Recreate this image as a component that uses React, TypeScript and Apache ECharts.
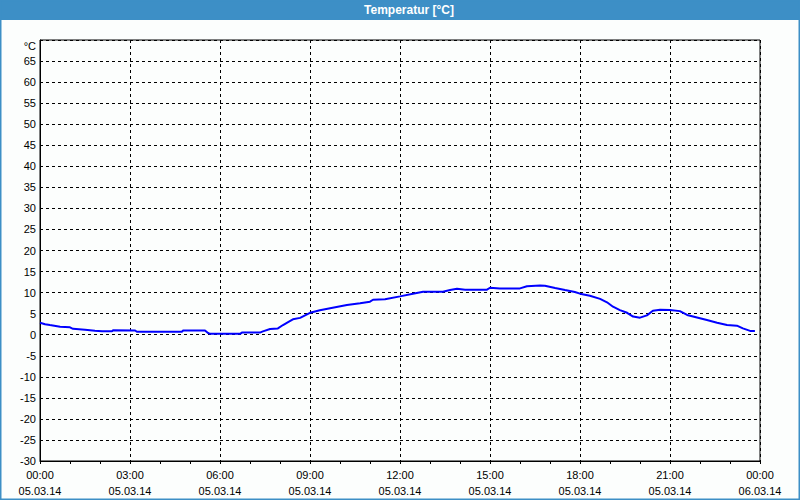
import React, { useEffect, useRef } from "react";
import * as echarts from "echarts";

const titleText = "Temperatur [°C]";
const unitLabel = "°C";
const dateStart = "05.03.14";
const dateEnd = "06.03.14";

const hours = [
  0, 0.17, 0.33, 0.67, 1.0, 1.1, 1.5, 1.83, 2.07, 2.4, 2.43, 3.17, 3.23, 4.73, 4.77, 5.5, 5.6, 5.67,
  6.67, 6.73, 7.33, 7.43, 7.67, 7.93, 8.1, 8.27, 8.43, 8.67, 9.0, 9.33, 9.67, 10.23, 10.67, 11.0,
  11.1, 11.5, 12.0, 12.43, 12.77, 13.43, 13.67, 13.9, 14.17, 14.9, 15.0, 15.33, 16.0, 16.23, 16.67,
  16.83, 17.17, 17.5, 17.83, 18.0, 18.33, 18.67, 18.9, 19.1, 19.33, 19.57, 19.77, 20.0, 20.23, 20.43,
  20.67, 21.0, 21.33, 21.57, 21.9, 22.23, 22.57, 22.9, 23.23, 23.43, 23.67, 23.83,
];
const temps = [
  2.85, 2.5, 2.3, 1.9, 1.75, 1.4, 1.2, 0.95, 0.8, 0.8, 1.05, 1.0, 0.7, 0.7, 1.0, 1.0, 0.4, 0.2,
  0.2, 0.5, 0.5, 0.8, 1.35, 1.5, 2.3, 3.0, 3.65, 4.0, 5.2, 5.8, 6.3, 7.05, 7.45, 7.85,
  8.3, 8.4, 9.1, 9.75, 10.2, 10.2, 10.6, 10.9, 10.7, 10.7, 11.15, 11.0, 11.0, 11.5, 11.7,
  11.65, 11.1, 10.6, 10.15, 9.75, 9.25, 8.5, 7.7, 6.65, 5.85, 5.2, 4.3, 4.05, 4.6, 5.7,
  5.95, 5.85, 5.6, 4.7, 4.1, 3.5, 2.85, 2.3, 2.15, 1.5, 0.9, 0.9,
];

const FONT = "Liberation Sans";

export default function App() {
  const ref = useRef<HTMLDivElement>(null);
  useEffect(() => {
    if (!ref.current) return;
    const chart = echarts.init(ref.current, undefined, { renderer: "svg" });
    const pad = (n: number) => (n < 10 ? "0" + n : "" + n);
    chart.setOption({
      animation: false,
      backgroundColor: "#fcfefd",
      grid: {
        left: 40,
        right: 40,
        top: 40,
        bottom: 39,
        show: true,
        borderColor: "#000",
        borderWidth: 1,
        backgroundColor: "transparent",
      },
      xAxis: {
        type: "value",
        min: 0,
        max: 24,
        interval: 3,
        axisLine: { show: true, onZero: false, lineStyle: { color: "#000", width: 1 } },
        axisTick: { show: true, length: 3, lineStyle: { color: "#000" } },
        minorTick: { show: true, splitNumber: 3, length: 3, lineStyle: { color: "#000" } },
        splitLine: { show: true, lineStyle: { color: "#000", type: [3, 3], width: 1 } },
        axisLabel: {
          color: "#000",
          fontFamily: FONT,
          fontSize: 11,
          lineHeight: 16,
          margin: 6,
          formatter: (v: number) => {
            const h = Math.round(v) % 24;
            return pad(h) + ":00\n" + (v >= 24 ? dateEnd : dateStart);
          },
        },
      },
      yAxis: {
        type: "value",
        min: -30,
        max: 70,
        interval: 5,
        axisLine: { show: true, onZero: false, lineStyle: { color: "#000", width: 1 } },
        axisTick: { show: false },
        splitLine: { show: true, lineStyle: { color: "#000", type: [3, 3], width: 1 } },
        axisLabel: {
          color: "#000",
          fontFamily: FONT,
          fontSize: 11,
          margin: 4,
          formatter: (v: number) => (v >= 70 ? "" : String(v)),
        },
      },
      series: [
        {
          type: "line",
          data: hours.map((h, i) => [h, temps[i]]),
          showSymbol: false,
          symbol: "none",
          lineStyle: { color: "#0000ff", width: 2 },
        },
      ],
      graphic: [
        {
          type: "rect",
          shape: { x: 0, y: 0, width: 800, height: 20 },
          style: { fill: "#3d8fc6" },
          z: 10,
        },
        {
          type: "rect",
          shape: { x: 0.5, y: 0.5, width: 799, height: 499 },
          style: { fill: "none", stroke: "#3d8fc6", lineWidth: 2 },
          z: 10,
        },
        {
          type: "text",
          x: 409,
          y: 10,
          style: {
            text: titleText,
            fill: "#fff",
            font: "bold 12px " + FONT,
            textAlign: "center",
            textVerticalAlign: "middle",
          },
          z: 11,
        },
        {
          type: "text",
          x: 36,
          y: 46,
          style: {
            text: unitLabel,
            fill: "#000",
            font: "11px " + FONT,
            textAlign: "right",
            textVerticalAlign: "middle",
          },
          z: 11,
        },
      ],
    });
    return () => chart.dispose();
  }, []);
  return (
    <div
      ref={ref}
      style={{ position: "fixed", left: 0, top: 0, width: 800, height: 500 }}
    />
  );
}
